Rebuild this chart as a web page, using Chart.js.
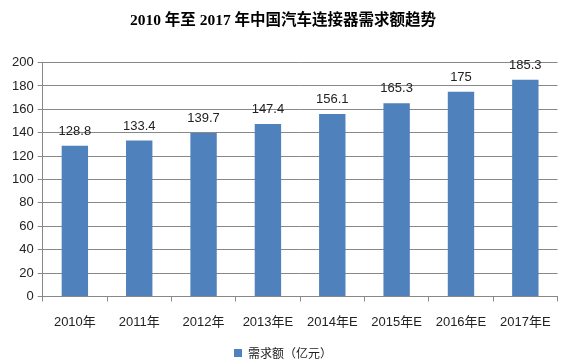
<!DOCTYPE html>
<html><head><meta charset="utf-8">
<script src="https://cdn.jsdelivr.net/npm/chart.js@4"></script>
<style>html,body{margin:0;padding:0;background:#fff}#w{width:564px;height:364px}</style>
</head><body><div id="w"><canvas id="c"></canvas></div>
<script>
const categories = ["2010年","2011年","2012年","2013年E","2014年E","2015年E","2016年E","2017年E"];
const demand = [128.8,133.4,139.7,147.4,156.1,165.3,175,185.3];
const yTicks = [0,20,40,60,80,100,120,140,160,180,200];
const seriesName = "需求额（亿元）";
const titleText = "2010 年至 2017 年中国汽车连接器需求额趋势";

const labelPlugin = {
  id:'lbl',
  afterDatasetsDraw(chart){
    const ctx = chart.ctx;
    const meta = chart.getDatasetMeta(0);
    ctx.save();
    ctx.font = '13px "Liberation Sans", Arial, sans-serif';
    ctx.fillStyle = '#222';
    ctx.textAlign = 'center';
    ctx.textBaseline = 'bottom';
    meta.data.forEach((b,i)=>{
      ctx.fillText(String(demand[i]), b.x, b.y - 8);
    });
    ctx.restore();
  }
};

new Chart(document.getElementById('c'), {
  type:'bar',
  data:{labels:categories, datasets:[{label:seriesName, data:demand, backgroundColor:'#4F81BD', borderWidth:0, categoryPercentage:1, barPercentage:0.41}]},
  options:{
    responsive:true, maintainAspectRatio:false, animation:false,
    layout:{padding:{left:8,right:6,top:0,bottom:-5}},
    plugins:{
      title:{display:true, text:titleText, color:'#000', font:{family:'"Liberation Serif", "Noto Sans CJK SC", serif', size:15.5, weight:'bold'}, padding:{top:12,bottom:32}},
      legend:{position:'bottom', labels:{boxWidth:8, boxHeight:8, color:'#222', font:{family:'"Noto Sans CJK SC", sans-serif', size:12}, padding:4}},
      tooltip:{enabled:false}
    },
    scales:{
      x:{grid:{drawOnChartArea:false, offset:true, tickLength:5, color:'#888'}, border:{color:'#888'},
         ticks:{color:'#222', font:{family:'"Liberation Sans", "Noto Sans CJK SC", sans-serif', size:13}, padding:13, maxRotation:0}},
      y:{min:0,max:200, afterBuildTicks(s){s.ticks = yTicks.map(v=>({value:v}));},
         grid:{color:'#888', tickLength:5}, border:{color:'#888'},
         ticks:{color:'#222', font:{family:'"Liberation Sans", sans-serif', size:13}, padding:4}}
    }
  },
  plugins:[labelPlugin]
});
</script></body></html>
